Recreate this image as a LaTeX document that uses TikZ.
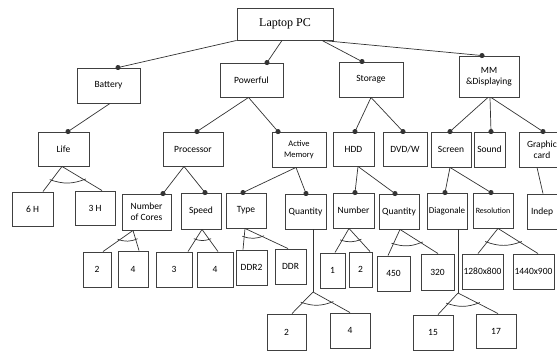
\documentclass[tikz,border=0pt]{standalone}
\usepackage{fontspec}
\setmainfont{Carlito}
\newfontfamily\serifpc{Liberation Serif}
\usetikzlibrary{arrows.meta,calc}

\tikzset{
  feat/.style 2 args={draw=black!75, line width=0.9pt, minimum width=#1pt, minimum height=#2pt,
    inner sep=1pt, align=center, font=\fontsize{9.5}{11}\selectfont},
  edge/.style={black!80, line width=0.7pt},
  mand/.style={edge, -{Circle[length=5pt]}, shorten >=-2.5pt},
  alt/.style={edge, shorten <=-2pt, shorten >=-2pt},
}
% alternative group: two lines from the parent point and the arc across them
\newcommand{\altgroup}[4][0.5]{%
  \draw[edge] (#2) -- (#3);
  \draw[edge] (#2) -- (#4);
  \draw[alt] ($(#2)!#1!(#3)$) to[bend right=20] ($(#2)!#1!(#4)$);}

\begin{document}
\begin{tikzpicture}[x=1pt, y=-1pt]
  \useasboundingbox (0,0) rectangle (557,352);
  \clip (0,0) rectangle (557,352);

  % Root
  \node[feat={96}{32}, font=\serifpc\fontsize{12}{14}\selectfont] (pc) at (285,24) {Laptop PC};

  % Main features
  \node[feat={63}{35}] (bat) at (108.5,85.5) {Battery};
  \node[feat={63}{34}] (pow) at (251.5,80) {Powerful};
  \node[feat={64}{35}] (sto) at (371,79.5) {Storage};
  \node[feat={60}{41}] (mm) at (489,76.5) {MM\\\&Displaying};

  % Sub features
  \node[feat={51}{34}] (life) at (63.5,149) {Life};
  \node[feat={60}{34}] (proc) at (193,149) {Processor};
  \node[feat={54}{35}, font=\fontsize{8.5}{10.5}\selectfont] (amem) at (299,149.5) {Active\\Memory};
  \node[feat={41}{34}] (hdd) at (353.5,149) {HDD};
  \node[feat={44}{34}] (dvd) at (405,149) {DVD/W};
  \node[feat={40}{35}] (scr) at (451,149.5) {Screen};
  \node[feat={31}{35}] (snd) at (489.5,149.5) {Sound};
  \node[feat={46}{35}] (gfx) at (542,149.5) {Graphic\\card};

  \node[feat={41}{34}] (h6) at (32.5,209) {6 H};
  \node[feat={40}{34}] (h3) at (95,208) {3 H};
  \node[feat={49}{36}] (ncor) at (146.5,212) {Number\\of Cores};
  \node[feat={40}{36}] (spd) at (201,211) {Speed};
  \node[feat={40}{35}] (typ) at (246,210.5) {Type};
  \node[feat={41}{35}] (qmem) at (305.5,211.5) {Quantity};
  \node[feat={41}{35}] (num) at (353.5,210.5) {Number};
  \node[feat={40}{35}] (qhdd) at (399,211.5) {Quantity};
  \node[feat={40}{36}, font=\fontsize{9}{11}\selectfont] (diag) at (447,211) {Diagonale};
  \node[feat={40}{35}, font=\fontsize{8}{10}\selectfont] (res) at (493,210.5) {Resolution};
  \node[feat={43}{35}, text width=35pt, align=left] (indep) at (548.5,211.5) {Indep};

  % Values
  \node[feat={28}{35}] (c2) at (97,269.5) {2};
  \node[feat={30}{36}] (c4) at (133,269) {4};
  \node[feat={36}{35}] (s3) at (174,269.5) {3};
  \node[feat={36}{35}] (s4) at (215,269.5) {4};
  \node[feat={31}{35}] (ddr2) at (251.5,267.5) {DDR2};
  \node[feat={31}{35}] (ddr) at (290.5,266.5) {DDR};
  \node[feat={25}{35}] (n1) at (332.5,270.5) {1};
  \node[feat={23}{35}] (n2) at (360.5,269.5) {2};
  \node[feat={33}{35}] (q450) at (393.5,273.5) {450};
  \node[feat={33}{36}] (q320) at (437.5,272) {320};
  \node[feat={41}{35}] (r1280) at (482.5,271.5) {1280x800};
  \node[feat={41}{35}] (r1440) at (533.5,271.5) {1440x900};

  \node[feat={39}{36}] (qm2) at (286.5,332) {2};
  \node[feat={40}{35}] (qm4) at (350,330.5) {4};
  \node[feat={40}{35}] (d15) at (433,332.5) {15};
  \node[feat={40}{34}] (d17) at (496,331) {17};

  % Mandatory links
  \draw[mand] (pc.south west) -- ([xshift=9.5pt]bat.north);
  \draw[mand] ([xshift=-3pt]pc.south) -- ([xshift=15.5pt]pow.north);
  \draw[mand] ([xshift=37pt]pc.south) -- ([xshift=-9pt]sto.north);
  \draw[mand] ([xshift=37pt]pc.south) -- ([xshift=-7pt]mm.north);

  \draw[mand] ([xshift=1.5pt]bat.south) -- ([xshift=4.5pt]life.north);
  \draw[mand] ([xshift=-3pt]pow.south) -- ([xshift=4pt]proc.north);
  \draw[mand] ([xshift=-3pt]pow.south) -- ([xshift=-21pt]amem.north);
  \draw[mand] (sto.south) -- ([xshift=1.5pt]hdd.north);
  \draw[mand] (sto.south) -- ([xshift=-2pt]dvd.north);
  \draw[mand] ([xshift=-1pt]mm.south) -- ([xshift=-1pt]scr.north);
  \draw[mand] ([xshift=1pt]mm.south) -- ([xshift=1.5pt]snd.north);
  \draw[mand] ([xshift=2pt]mm.south) -- ([xshift=1pt]gfx.north);

  \draw[mand] ([xshift=-9pt]proc.south) -- ([xshift=16.5pt]ncor.north);
  \draw[mand] ([xshift=-9pt]proc.south) -- ([xshift=4pt]spd.north);
  \draw[mand] ([xshift=-3pt]amem.south) -- ([xshift=-3pt]typ.north);
  \draw[mand] ([xshift=-3pt]amem.south) -- ([xshift=0.5pt]qmem.north);
  \draw[mand] ([xshift=4.5pt]hdd.south) -- ([xshift=1.5pt]num.north);
  \draw[mand] ([xshift=4.5pt]hdd.south) -- ([xshift=-4pt]qhdd.north);
  \draw[mand] ([xshift=-1pt]scr.south) -- ([xshift=-2pt]diag.north);
  \draw[mand] ([xshift=-1pt]scr.south) -- ([xshift=-2pt]res.north);

  % Optional link
  \draw[edge] ([xshift=-5pt]gfx.south) -- ([xshift=-5.5pt]indep.north);

  % Alternative groups
  \altgroup[0.55]{[xshift=-1.5pt]life.south}{[xshift=10.5pt]h6.north}{[xshift=7pt]h3.north}
  \altgroup[0.45]{[xshift=-13.5pt]ncor.south}{[xshift=6pt]c2.north}{[xshift=6pt]c4.north}
  \altgroup[0.45]{[xshift=1pt]spd.south}{[xshift=14pt]s3.north}{[xshift=3pt]s4.north}
  \altgroup[0.4]{[xshift=-1pt]typ.south}{[xshift=-8.5pt]ddr2.north}{[xshift=-2.5pt]ddr.north}
  \altgroup[0.5]{[xshift=-4.5pt]num.south}{[xshift=2.5pt]n1.north}{[xshift=9.5pt]n2.north}
  \altgroup[0.55]{[xshift=1pt]qhdd.south}{[xshift=-5.5pt]q450.north}{[xshift=0.5pt]q320.north}
  \altgroup[0.55]{[xshift=5pt]res.south}{[xshift=-4.5pt]r1280.north}{[xshift=4.5pt]r1440.north}

  \coordinate (qj) at (313,292);
  \draw[edge] ([xshift=7.5pt]qmem.south) -- (qj);
  \altgroup[0.5]{qj}{[xshift=5.5pt]qm2.north}{qm4.north}

  \coordinate (dj) at (458,293);
  \draw[edge] ([xshift=11pt]diag.south) -- (dj);
  \altgroup[0.5]{dj}{[xshift=5pt]d15.north}{[xshift=2pt]d17.north}
\end{tikzpicture}
\end{document}
